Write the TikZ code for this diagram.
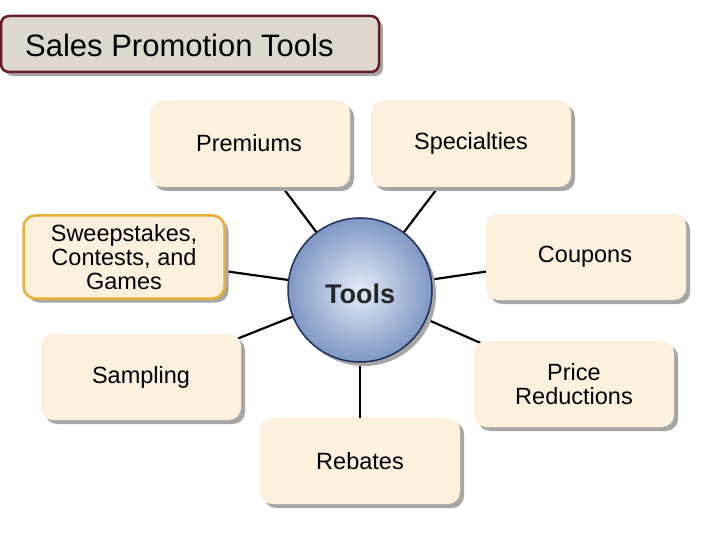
\documentclass[tikz,border=0pt]{standalone}
\usepackage{fontspec}
\setmainfont{Liberation Sans}
\usetikzlibrary{shadows}
\definecolor{cream}{HTML}{FDF0DC}
\definecolor{gold}{HTML}{E8B030}
\definecolor{maroon}{HTML}{6B1A2A}
\definecolor{titlefill}{HTML}{DDD8CE}
\definecolor{navy}{HTML}{1F2F5A}
\definecolor{cin}{HTML}{E4ECF8}
\definecolor{cout}{HTML}{7F97C4}
\begin{document}
\begin{tikzpicture}[x=1pt,y=-1pt,
  lbl/.style={font=\fontsize{23.5}{24}\selectfont,align=center,inner sep=0pt},
  box/.style={rounded corners=12pt,fill=cream,minimum width=200pt,minimum height=86pt,
    drop shadow={shadow xshift=4pt,shadow yshift=-4pt,fill=gray!70,opacity=1},
    lbl},
  conn/.style={line width=2.2pt,black}]
\useasboundingbox (0,0) rectangle (720,540);
\fill[white] (0,0) rectangle (720,540);
\node[draw=maroon,line width=2.5pt,fill=titlefill,rounded corners=8pt,minimum width=378pt,minimum height=56pt,
  drop shadow={shadow xshift=4pt,shadow yshift=-4pt,fill=gray!70,opacity=1}] (title) at (190,44) {};
\node[anchor=west,font=\fontsize{31}{34}\selectfont,inner sep=0pt] (tt) at (25,45) {Sales Promotion Tools};
\coordinate (c) at (360,290);
\coordinate (p) at (250,144);
\coordinate (s) at (471,144);
\coordinate (w) at (124,257);
\coordinate (k) at (586,257);
\coordinate (m) at (141,377);
\coordinate (r) at (574,384);
\coordinate (b) at (360,461);
\foreach \t in {p,s,w,k,m,r,b} \draw[conn] (c) -- (\t);
\node[box] (prem) at (250,144) {};
\node[lbl] (premt) at (249,143) {Premiums};
\node[box] (spec) at (471,144) {};
\node[lbl] (spect) at (471,143) {Specialties};
\node[box,draw=gold,line width=2.5pt,minimum width=201pt,minimum height=83pt] (sweep) at (124,257) {Sweepstakes,\\Contests, and\\Games};
\node[box] (coup) at (586,257) {};
\node[lbl] (coupt) at (585,257) {Coupons};
\node[box] (samp) at (141,377) {};
\node[lbl] (sampt) at (141,377) {Sampling};
\node[box] (price) at (574,384) {Price\\Reductions};
\node[box] (reb) at (360,461) {};
\node[lbl] (rebt) at (360,461) {Rebates};
\fill[gray!70] (364,294) circle (72);
\shade[inner color=cin,outer color=cout] (360,290) circle (72);
\draw[navy,line width=1.5pt] (360,290) circle (72);
\node[font=\fontsize{27}{30}\selectfont\bfseries,text=black!85] (tools) at (360,294) {Tools};
\end{tikzpicture}
\end{document}
